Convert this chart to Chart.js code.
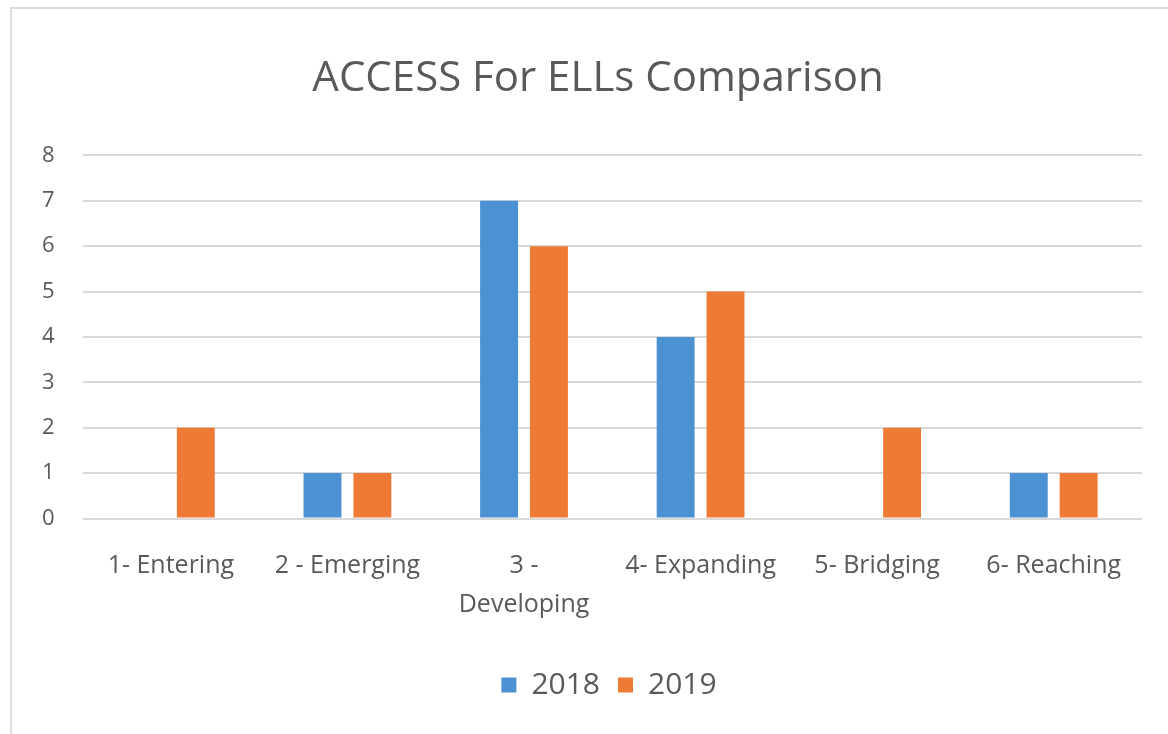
<!DOCTYPE html>
<html lang="en">
<head>
  <meta charset="UTF-8">
  <title>ACCESS For ELLs Comparison</title>
  <script src="https://cdn.jsdelivr.net/npm/chart.js"></script>
  <style>
    html, body {
      margin: 0;
      padding: 0;
      background: #fff;
      overflow: hidden;
    }
    .frame {
      position: absolute;
      left: 10px;
      top: 7px;
      width: 1200px;
      height: 800px;
      border: 2px solid #dcdcdc;
    }
    .wrap {
      position: absolute;
      left: 0;
      top: 0;
      width: 1168px;
      height: 734px;
    }
  </style>
</head>
<body>
  <div class="frame"></div>
  <div class="wrap">
    <canvas id="chartAccess"></canvas>
  </div>

  <script>
    const levels = ['1- Entering', '2 - Emerging', ['3 -', 'Developing'], '4- Expanding', '5- Bridging', '6- Reaching'];
    const scores2018 = [0, 1, 7, 4, 0, 1];
    const scores2019 = [2, 1, 6, 5, 2, 1];
    const yTicks = [0, 1, 2, 3, 4, 5, 6, 7, 8];

    const textGray = '#595959';
    const fontName = '"Open Sans", sans-serif';

    // the original title and legend sit a little right of the canvas centre
    const nudgeBlocks = {
      id: 'nudgeBlocks',
      afterLayout(chart) {
        if (chart.titleBlock) chart.titleBlock.left += 40;
        if (chart.legend) chart.legend.left += 62;
      }
    };

    new Chart(document.getElementById('chartAccess'), {
      type: 'bar',
      data: {
        labels: levels,
        datasets: [
          {
            label: '2018',
            data: scores2018,
            backgroundColor: '#4c92d2',
            categoryPercentage: 0.565,
            barPercentage: 0.76
          },
          {
            label: '2019',
            data: scores2019,
            backgroundColor: '#ef7a35',
            categoryPercentage: 0.565,
            barPercentage: 0.76
          }
        ]
      },
      options: {
        responsive: true,
        maintainAspectRatio: false,
        animation: false,
        layout: {
          padding: { left: 14, right: 26, top: 0, bottom: 24 }
        },
        scales: {
          x: {
            grid: { display: false, drawTicks: false },
            border: { display: false },
            ticks: {
              color: textGray,
              padding: 28,
              maxRotation: 0,
              autoSkip: false,
              font: { family: fontName, size: 25, lineHeight: 1.55 }
            }
          },
          y: {
            min: 0,
            max: 8,
            afterBuildTicks: function(axis) {
              axis.ticks = yTicks.map(v => ({ value: v }));
            },
            grid: { color: '#d9d9d9', lineWidth: 2, drawTicks: false },
            border: { display: false },
            ticks: {
              color: textGray,
              padding: 28,
              font: { family: fontName, size: 22 }
            }
          }
        },
        plugins: {
          title: {
            display: true,
            text: 'ACCESS For ELLs Comparison',
            color: textGray,
            font: { family: fontName, size: 42, weight: 'normal' },
            padding: { top: 54, bottom: 51 }
          },
          legend: {
            position: 'bottom',
            labels: {
              color: textGray,
              boxWidth: 15,
              boxHeight: 15,
              padding: 18,
              font: { family: fontName, size: 30 }
            }
          },
          tooltip: { enabled: false }
        }
      },
      plugins: [nudgeBlocks]
    });
  </script>
</body>
</html>
